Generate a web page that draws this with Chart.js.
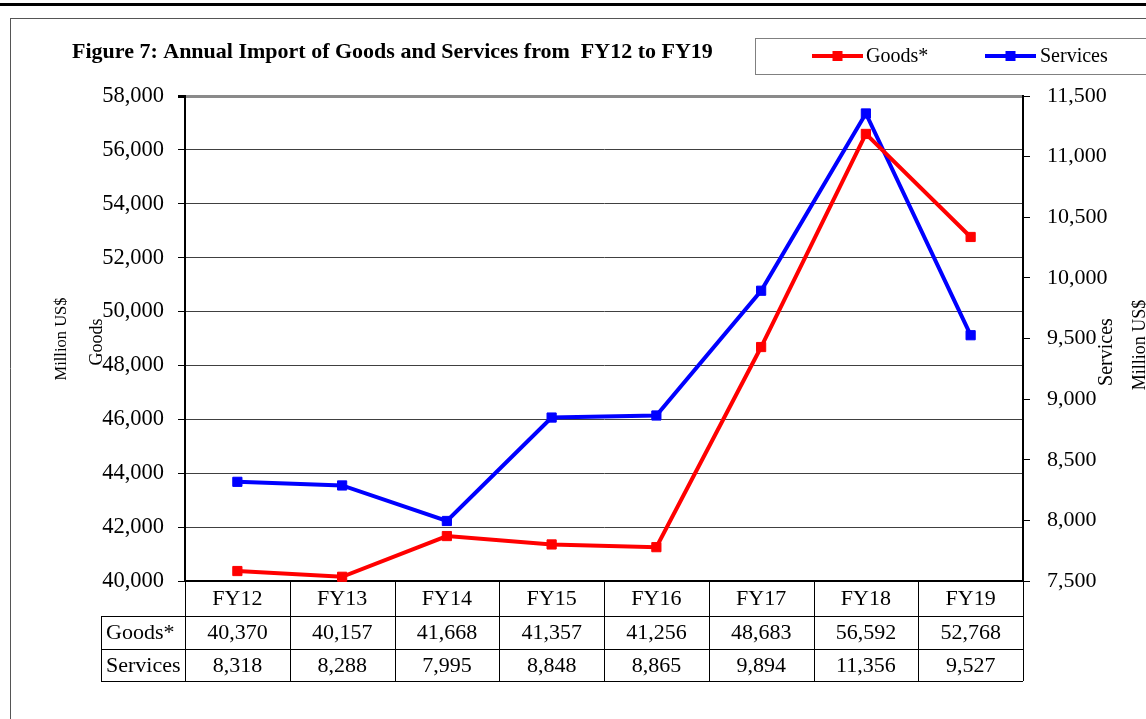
<!DOCTYPE html>
<html><head><meta charset="utf-8">
<script src="https://cdn.jsdelivr.net/npm/chart.js@4.4.1/dist/chart.umd.min.js"></script>
<style>html,body{margin:0;padding:0;background:#fff;overflow:hidden}canvas{display:block}</style>
</head><body>
<canvas id="c" width="1146" height="719"></canvas>
<script>
const categories = ['FY12','FY13','FY14','FY15','FY16','FY17','FY18','FY19'];
const goods = [40370, 40157, 41668, 41357, 41256, 48683, 56592, 52768];
const services = [8318, 8288, 7995, 8848, 8865, 9894, 11356, 9527];
const seriesNames = ['Goods*', 'Services'];
const leftAxis = {min: 40000, max: 58000, step: 2000};
const rightAxis = {min: 7500, max: 11500, step: 500};
const titleText = 'Figure 7: Annual Import of Goods and Services from  FY12 to FY19';

const SERIF = '"Liberation Serif", "Times New Roman", serif';
Chart.defaults.font.family = SERIF;
Chart.defaults.color = '#000';
const fmt = v => Number(v).toLocaleString('en-US');

function line(ctx, x1, y1, x2, y2) { ctx.beginPath(); ctx.moveTo(x1, y1); ctx.lineTo(x2, y2); ctx.stroke(); }

const decor = {
  id: 'decor',
  beforeDraw(chart) {
    const ctx = chart.ctx;
    ctx.save();
    ctx.fillStyle = '#fff'; ctx.fillRect(0, 0, chart.width, chart.height);
    // page rule and frame
    ctx.fillStyle = '#000'; ctx.fillRect(0, 3, chart.width, 3);
    ctx.strokeStyle = '#555'; ctx.lineWidth = 1;
    line(ctx, 10.5, 18, 10.5, chart.height);
    line(ctx, 10, 18.5, chart.width, 18.5);
    // title
    ctx.fillStyle = '#000';
    ctx.font = 'bold 22px ' + SERIF;
    ctx.textBaseline = 'alphabetic'; ctx.textAlign = 'left';
    ctx.fillText(titleText, 72, 58);
    // legend
    ctx.strokeStyle = '#808080'; ctx.lineWidth = 1;
    ctx.strokeRect(755.5, 38.5, 420, 36);
    const items = [{x: 812, tx: 866}, {x: 985, tx: 1040}];
    chart.data.datasets.forEach((ds, i) => {
      const it = items[i];
      ctx.strokeStyle = ds.borderColor; ctx.lineWidth = 4;
      line(ctx, it.x, 56, it.x + 51, 56);
      ctx.fillStyle = ds.borderColor;
      ctx.fillRect(it.x + 25.5 - 5, 51, 10, 10);
      ctx.fillStyle = '#000';
      ctx.font = '20px ' + SERIF;
      ctx.textBaseline = 'middle';
      ctx.fillText(ds.label, it.tx, 57);
    });
    ctx.restore();
  },
  afterDraw(chart) {
    const ctx = chart.ctx, xs = chart.scales.x, ca = chart.chartArea;
    ctx.save();
    // axis titles
    const vtext = (t, x, y, size) => {
      ctx.save(); ctx.translate(x, y); ctx.rotate(-Math.PI / 2);
      ctx.font = size + 'px ' + SERIF; ctx.textAlign = 'center'; ctx.textBaseline = 'middle';
      ctx.fillStyle = '#000'; ctx.fillText(t, 0, 0); ctx.restore();
    };
    vtext('Million US$', 62, 339, 16.5);
    vtext('Goods', 97, 342, 18);
    vtext('Services', 1107, 352, 20);
    vtext('Million US$', 1140, 345, 18);
    // data table
    const n = categories.length;
    const half = (xs.getPixelForValue(1) - xs.getPixelForValue(0)) / 2;
    const headTop = ca.bottom, headBot = xs.bottom, rowH = 32.5;
    const rows = [{label: seriesNames[0], data: goods}, {label: seriesNames[1], data: services}];
    const tableBot = headBot + rowH * rows.length;
    const labelLeft = 101;
    ctx.strokeStyle = '#000'; ctx.lineWidth = 1;
    for (let r = 0; r <= rows.length; r++) {
      const y = Math.round(headBot + rowH * r) + 0.5;
      line(ctx, labelLeft, y, ca.right, y);
    }
    line(ctx, labelLeft + 0.5, headBot, labelLeft + 0.5, tableBot);
    for (let i = 0; i <= n; i++) {
      const x = Math.round(xs.getPixelForValue(i) - half) + 0.5;
      line(ctx, x, headTop, x, tableBot);
    }
    ctx.font = '22px ' + SERIF; ctx.fillStyle = '#000'; ctx.textBaseline = 'middle';
    rows.forEach((row, r) => {
      const yc = headBot + rowH * r + rowH / 2 + 1;
      ctx.textAlign = 'left';
      ctx.fillText(row.label, 106, yc);
      ctx.textAlign = 'center';
      row.data.forEach((v, i) => ctx.fillText(fmt(v), xs.getPixelForValue(i), yc));
    });
    ctx.restore();
  }
};

new Chart(document.getElementById('c'), {
  type: 'line',
  data: {
    labels: categories,
    datasets: [
      {label: seriesNames[0], data: goods, yAxisID: 'y', borderColor: '#ff0000', backgroundColor: '#ff0000',
       borderWidth: 4, pointStyle: 'rect', pointRadius: 6.5, pointBorderWidth: 1, tension: 0, clip: false},
      {label: seriesNames[1], data: services, yAxisID: 'y2', borderColor: '#0000ff', backgroundColor: '#0000ff',
       borderWidth: 4, pointStyle: 'rect', pointRadius: 6.5, pointBorderWidth: 1, tension: 0, clip: false}
    ]
  },
  options: {
    responsive: false, animation: false, devicePixelRatio: 1,
    layout: {padding: {top: 96, bottom: 103, left: 0, right: 0}},
    plugins: {legend: {display: false}, title: {display: false}, tooltip: {enabled: false}},
    scales: {
      x: {
        offset: true,
        grid: {display: true, drawOnChartArea: false, drawTicks: false, color: 'rgba(0,0,0,0)'},
        border: {display: true, color: '#000', width: 2},
        ticks: {font: {size: 22}, color: '#000', padding: 5, maxRotation: 0, autoSkip: false},
        afterFit: s => { s.height = 35; }
      },
      y: {
        position: 'left', min: leftAxis.min, max: leftAxis.max,
        ticks: {stepSize: leftAxis.step, font: {size: 22.5}, color: '#000', padding: 14, callback: v => fmt(v)},
        grid: {
          color: c => (c.tick && c.tick.value === leftAxis.max) ? '#8a8a8a' : '#404040',
          lineWidth: c => (c.tick && c.tick.value === leftAxis.max) ? 3 : 1,
          tickColor: '#000', tickLength: 7
        },
        border: {display: true, color: '#000', width: 2},
        afterFit: s => { s.width = 185; }
      },
      y2: {
        position: 'right', min: rightAxis.min, max: rightAxis.max,
        ticks: {stepSize: rightAxis.step, font: {size: 22}, color: '#000', padding: 17, callback: v => fmt(v)},
        grid: {drawOnChartArea: false, tickColor: '#000', tickLength: 7},
        border: {display: true, color: '#000', width: 2},
        afterFit: s => { s.width = 123; }
      }
    }
  },
  plugins: [decor]
});
</script>
</body></html>
